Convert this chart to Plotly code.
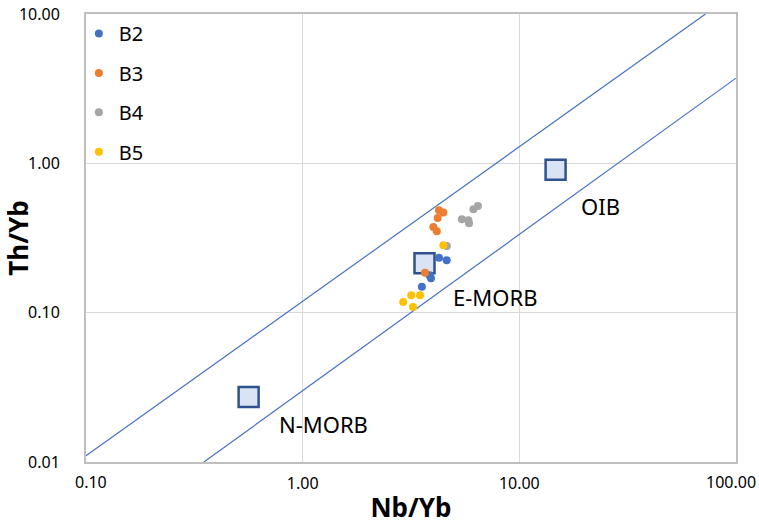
import math
import plotly.graph_objects as go

# Sample data (Nb/Yb, Th/Yb)
b2_x = [4.26, 4.62, 3.85, 3.91, 3.55]
b2_y = [0.233, 0.224, 0.178, 0.170, 0.149]
b3_x = [4.26, 4.46, 4.20, 4.01, 4.16, 3.67]
b3_y = [0.485, 0.468, 0.431, 0.375, 0.351, 0.185]
b4_x = [6.44, 6.14, 5.43, 5.82, 5.86, 4.63]
b4_y = [0.518, 0.492, 0.422, 0.416, 0.397, 0.280]
b5_x = [4.46, 2.91, 3.17, 3.48, 3.23]
b5_y = [0.283, 0.118, 0.131, 0.131, 0.109]

# Reference compositions
ref_names = ["N-MORB", "E-MORB", "OIB"]
ref_x = [0.563, 3.65, 14.7]
ref_y = [0.0272, 0.214, 0.905]
label_x = [1.25, 7.74, 23.8]
label_y = [0.0181, 0.127, 0.520]

# MORB-OIB array boundaries
upper_x = [0.1, 72.3]
upper_y = [0.011, 10.0]
lower_x = [0.35, 100.0]
lower_y = [0.01, 3.72]

x_ticks = [0.1, 1, 10, 100]
x_tick_text = ["0.10", "1.00", "10.00", "100.00"]
y_ticks = [0.01, 0.1, 1, 10]
y_tick_text = ["0.01", "0.10", "1.00", "10.00"]

FONT = "Noto Sans"
fig = go.Figure()

for lx, ly in [(upper_x, upper_y), (lower_x, lower_y)]:
    fig.add_trace(go.Scatter(x=lx, y=ly, mode="lines", line=dict(color="#4472C4", width=1.2),
                             showlegend=False, hoverinfo="skip"))

fig.add_trace(go.Scatter(x=ref_x, y=ref_y, mode="markers", showlegend=False,
                         marker=dict(symbol="square", size=20, color="#DAE3F3",
                                     line=dict(color="#2F528F", width=2.5))))

series = [("B2", b2_x, b2_y, "#4472C4"), ("B3", b3_x, b3_y, "#ED7D31"),
          ("B4", b4_x, b4_y, "#A5A5A5"), ("B5", b5_x, b5_y, "#FFC000")]
for name, sx, sy, col in series:
    fig.add_trace(go.Scatter(x=sx, y=sy, mode="markers", name=name, legendgroup=name,
                             marker=dict(size=8, color=col)))

for n, lx, ly in zip(ref_names, label_x, label_y):
    fig.add_annotation(x=math.log10(lx), y=math.log10(ly), text=n, showarrow=False,
                       xref="x", yref="y", font=dict(family=FONT, size=22, color="#000000"))

# Edge x tick labels are nudged inward (as in the original); inner ones sit on their ticks
inner_text = ["" if i in (0, len(x_ticks) - 1) else t for i, t in enumerate(x_tick_text)]
for i, shift in [(0, 5), (len(x_ticks) - 1, -5)]:
    fig.add_annotation(x=math.log10(x_ticks[i]), y=0, xref="x", yref="paper",
                       text=x_tick_text[i], showarrow=False, xanchor="center", yanchor="middle",
                       xshift=shift, yshift=-20,
                       font=dict(family=FONT, size=16, color="#000000"))

axis_common = dict(type="log", showgrid=True, gridcolor="#D9D9D9", gridwidth=1,
                   showline=True, linecolor="#BFBFBF", linewidth=2, mirror=True,
                   ticks="", zeroline=False, ticklabeloverflow="allow",
                   tickfont=dict(family=FONT, size=16, color="#000000"))

fig.update_xaxes(range=[-1, 2], tickvals=x_ticks, ticktext=inner_text, ticklabelstandoff=6,
                 title=dict(text="<b>Nb/Yb</b>", font=dict(family=FONT, size=26, color="#000000"),
                            standoff=12),
                 **axis_common)
fig.update_yaxes(range=[-2, 1], tickvals=y_ticks, ticktext=y_tick_text, ticklabelstandoff=21,
                 title=dict(text="<b>Th/Yb</b>", font=dict(family=FONT, size=26, color="#000000"),
                            standoff=9),
                 **axis_common)

fig.update_layout(
    width=759, height=525,
    margin=dict(l=86, r=23, t=14, b=63, autoexpand=False),
    paper_bgcolor="white", plot_bgcolor="white",
    font=dict(family=FONT, color="#000000"),
    legend=dict(x=-0.011, y=1.0, xanchor="left", yanchor="top",
                font=dict(family=FONT, size=20, color="#000000"),
                tracegroupgap=10.4, bgcolor="rgba(0,0,0,0)", itemwidth=30),
)

fig.write_html("out.html", config={"displayModeBar": False},
               post_script="document.body.style.margin='0';")
